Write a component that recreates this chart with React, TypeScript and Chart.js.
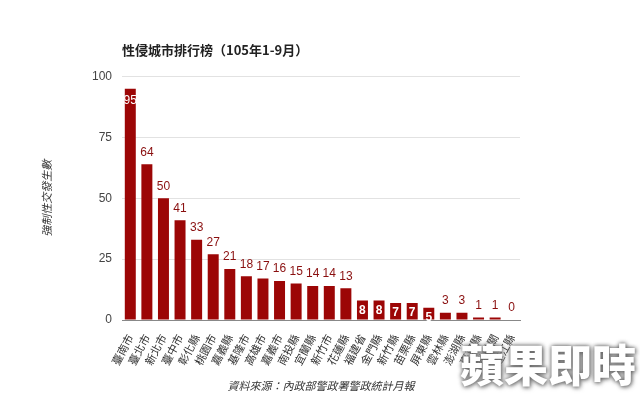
import React, { useEffect, useRef } from "react";
import { Chart, registerables } from "chart.js";

Chart.register(...registerables);

const categories = [
  "臺南市", "臺北市", "新北市", "臺中市", "彰化縣", "桃園市", "嘉義縣", "基隆市",
  "高雄市", "嘉義市", "南投縣", "宜蘭縣", "新竹市", "花蓮縣", "福建省", "金門縣",
  "新竹縣", "苗栗縣", "屏東縣", "雲林縣", "澎湖縣", "臺東縣", "專業機關", "連江縣",
];
const values = [95, 64, 50, 41, 33, 27, 21, 18, 17, 16, 15, 14, 14, 13, 8, 8, 7, 7, 5, 3, 3, 1, 1, 0];
const yTicks = [0, 25, 50, 75, 100];

const chartTitle = "性侵城市排行榜（105年1-9月）";
const yTitle = "強制性交發生數";
const sourceText = "資料來源：內政部警政署警政統計月報";
const watermark = "蘋果即時";

const BAR = "#9c0606";
const LABEL_RED = "#8a0f0f";
const CJK = "'Noto Sans CJK TC', 'Liberation Sans', sans-serif";
const SANS = "'Liberation Sans', Arial, sans-serif";

const valueLabels = {
  id: "valueLabels",
  afterDatasetsDraw(chart: any) {
    const ctx = chart.ctx;
    const meta = chart.getDatasetMeta(0);
    const data = chart.data.datasets[0].data as number[];
    const max = Math.max(...data);
    ctx.save();
    ctx.textAlign = "center";
    ctx.textBaseline = "middle";
    meta.data.forEach((bar: any, i: number) => {
      const v = data[i];
      const inside = v >= max * 0.9 || (v >= 4 && v <= 10);
      if (inside) {
        ctx.fillStyle = "#ffffff";
        ctx.font = (v < 10 ? "bold " : "") + "12px " + SANS;
        ctx.fillText(String(v), bar.x, v < 10 ? bar.y + 10 : bar.y + 12);
      } else {
        ctx.fillStyle = LABEL_RED;
        ctx.font = "12px " + SANS;
        ctx.fillText(String(v), bar.x, bar.y - 12);
      }
    });
    ctx.restore();
  },
};

export default function App() {
  const ref = useRef<HTMLCanvasElement>(null);
  useEffect(() => {
    if (!ref.current) return;
    const chart = new Chart(ref.current, {
      type: "bar",
      data: {
        labels: categories,
        datasets: [
          {
            data: values,
            backgroundColor: BAR,
            borderWidth: 0,
            barPercentage: 0.72,
            categoryPercentage: 0.92,
          },
        ],
      },
      options: {
        animation: false,
        responsive: false,
        maintainAspectRatio: false,
        layout: { padding: { left: 40, right: 120, top: 0, bottom: 4 } },
        plugins: {
          legend: { display: false },
          tooltip: { enabled: false },
          title: {
            display: true,
            text: chartTitle,
            align: "start",
            fullSize: false,
            color: "#222",
            font: { family: CJK, size: 13, weight: "bold" },
            padding: { top: 42, bottom: 19 },
          },
        },
        scales: {
          x: {
            afterFit(scale: any) {
              scale.height = 72;
            },
            grid: { display: false },
            border: { display: true, color: "#888", width: 1 },
            ticks: {
              autoSkip: false,
              minRotation: 62,
              maxRotation: 62,
              color: "#333",
              padding: 4,
              font: { family: CJK, size: 11 },
            },
            title: {
              display: true,
              text: sourceText,
              color: "#333",
              font: { family: CJK, size: 11, style: "italic" },
              padding: { top: 4, bottom: 0 },
            },
          },
          y: {
            min: 0,
            max: 100,
            afterBuildTicks(scale: any) {
              scale.ticks = yTicks.map((v) => ({ value: v }));
            },
            afterFit(scale: any) {
              scale.width = 82;
            },
            grid: { color: "#e2e2e2", drawTicks: false },
            border: { display: false },
            ticks: {
              color: "#444",
              padding: 10,
              font: { family: SANS, size: 12 },
            },
            title: {
              display: true,
              text: yTitle,
              color: "#333",
              font: { family: CJK, size: 11, style: "italic" },
              padding: 0,
            },
          },
        },
      },
      plugins: [valueLabels],
    });
    return () => chart.destroy();
  }, []);

  return (
    <div style={{ position: "fixed", left: 0, top: 0, width: 640, height: 396, background: "#fff", overflow: "hidden" }}>
      <canvas ref={ref} width={640} height={396} style={{ width: 640, height: 396, display: "block" }} />
      <div
        style={{
          position: "absolute",
          left: 460,
          top: 333,
          fontFamily: "'Noto Sans CJK TC', sans-serif",
          fontWeight: 900,
          fontSize: 44,
          lineHeight: "60px",
          color: "#ffffff",
          textShadow: "0 0 4px #666, 1px 1px 5px #777",
          whiteSpace: "nowrap",
        }}
      >
        {watermark}
      </div>
    </div>
  );
}
